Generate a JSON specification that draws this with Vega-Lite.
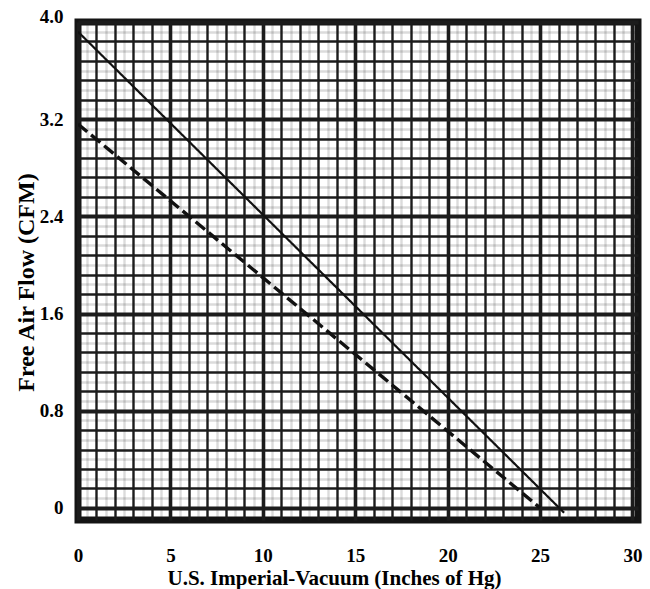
{
  "$schema": "https://vega.github.io/schema/vega-lite/v6.json",
  "autosize": {"type": "none"},
  "padding": {"left": 78, "top": 22, "right": 12, "bottom": 69},
  "width": 560,
  "height": 498,
  "background": "white",
  "config": {
    "view": {"stroke": "#141414", "strokeWidth": 7},
    "font": "Liberation Serif"
  },
  "data": {
    "values": [
      {"series": "solid", "vacuum": 0, "flow": 3.92},
      {"series": "solid", "vacuum": 26.3, "flow": -0.04},
      {"series": "dashed", "vacuum": 0, "flow": 3.16},
      {"series": "dashed", "vacuum": 25.0, "flow": 0.0}
    ]
  },
  "mark": {"type": "line", "clip": true},
  "encoding": {
    "x": {
      "field": "vacuum",
      "type": "quantitative",
      "scale": {"domain": [0, 30.3], "nice": false, "zero": false},
      "axis": {
        "title": "U.S. Imperial-Vacuum (Inches of Hg)",
        "values": [0,0.5,1,1.5,2,2.5,3,3.5,4,4.5,5,5.5,6,6.5,7,7.5,8,8.5,9,9.5,10,10.5,11,11.5,12,12.5,13,13.5,14,14.5,15,15.5,16,16.5,17,17.5,18,18.5,19,19.5,20,20.5,21,21.5,22,22.5,23,23.5,24,24.5,25,25.5,26,26.5,27,27.5,28,28.5,29,29.5,30],
        "labelExpr": "datum.value % 5 == 0 ? format(datum.value, 'd') : ''",
        "domain": false,
        "ticks": false,
        "labelPadding": 26,
        "labelFont": "Liberation Serif",
        "labelFontWeight": "bold",
        "labelFontSize": 19,
        "labelColor": "#000000",
        "labelFlush": false,
        "titleFont": "Liberation Serif",
        "titleFontWeight": "bold",
        "titleFontSize": 21,
        "titleColor": "#000000",
        "titleX": 256,
        "titleY": 64,
        "titleAlign": "center",
        "titleBaseline": "alphabetic",
        "grid": true,
        "gridColor": "#1c1c1c",
        "gridOpacity": {"condition": {"test": "datum.value % 1 != 0", "value": 0.16}, "value": 1},
        "gridWidth": {"condition": {"test": "datum.value % 5 == 0", "value": 3.6}, "value": 2.4}
      }
    },
    "y": {
      "field": "flow",
      "type": "quantitative",
      "scale": {"domain": [-0.1, 4.0], "nice": false, "zero": false},
      "axis": {
        "title": "Free Air Flow (CFM)",
        "values": [0,0.08,0.16,0.24,0.32,0.4,0.48,0.56,0.64,0.72,0.8,0.88,0.96,1.04,1.12,1.2,1.28,1.36,1.44,1.52,1.6,1.68,1.76,1.84,1.92,2.0,2.08,2.16,2.24,2.32,2.4,2.48,2.56,2.64,2.72,2.8,2.88,2.96,3.04,3.12,3.2,3.28,3.36,3.44,3.52,3.6,3.68,3.76,3.84,3.92,4.0],
        "labelExpr": "abs(datum.value/0.8 - round(datum.value/0.8)) < 0.001 ? (datum.value == 0 ? '0' : format(datum.value, '.1f')) : ''",
        "domain": false,
        "ticks": false,
        "labelPadding": 15,
        "labelOffset": {"condition": {"test": "datum.value == 4", "value": -6}, "value": 0},
        "labelFont": "Liberation Serif",
        "labelFontWeight": "bold",
        "labelFontSize": 19,
        "labelColor": "#000000",
        "labelFlush": false,
        "titleFont": "Liberation Serif",
        "titleFontWeight": "bold",
        "titleFontSize": 24,
        "titleColor": "#000000",
        "titleX": -40,
        "titleY": 260,
        "titleAlign": "center",
        "grid": true,
        "gridColor": "#1c1c1c",
        "gridOpacity": {"condition": {"test": "abs(datum.value/0.16 - round(datum.value/0.16)) > 0.001", "value": 0.16}, "value": 1},
        "gridWidth": {"condition": {"test": "abs(datum.value/0.8 - round(datum.value/0.8)) < 0.001", "value": 3.8}, "value": 2.6}
      }
    },
    "color": {"field": "series", "type": "nominal", "scale": {"domain": ["solid", "dashed"], "range": ["#111111", "#111111"]}, "legend": null},
    "strokeDash": {"field": "series", "type": "nominal", "scale": {"domain": ["solid", "dashed"], "range": [[1, 0], [12, 5]]}, "legend": null},
    "strokeWidth": {"field": "series", "type": "nominal", "scale": {"domain": ["solid", "dashed"], "range": [2.2, 3.4]}, "legend": null}
  }
}
